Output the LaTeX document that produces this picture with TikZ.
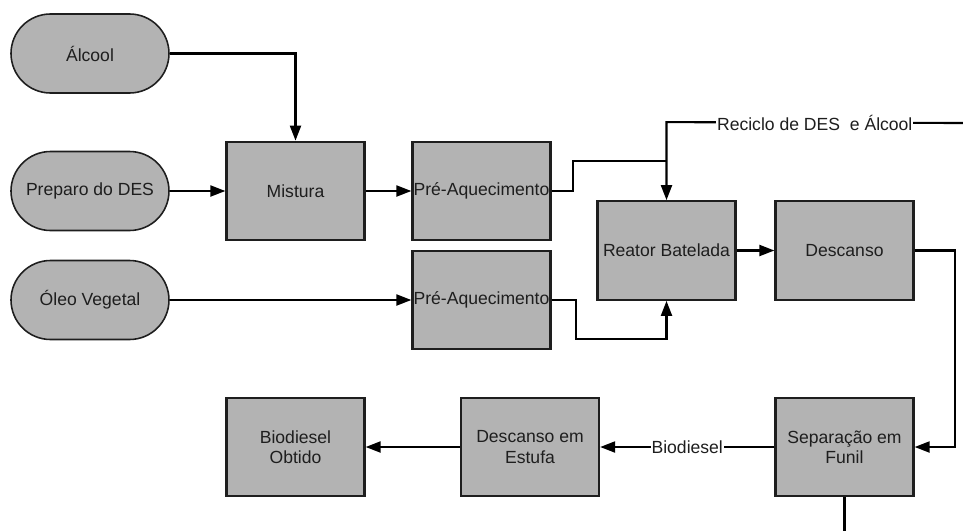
\documentclass[tikz,border=0pt]{standalone}
\usepackage{fontspec}
\setmainfont{Liberation Sans}
\usetikzlibrary{arrows.meta}

\definecolor{boxgray}{HTML}{B3B3B3}
\definecolor{inkdark}{HTML}{1E1E1E}

\tikzset{
    entrada/.style={draw=inkdark, fill=boxgray, line width=0.9pt, rounded corners=0.79cm,
        minimum width=3.16cm, minimum height=1.58cm, text=inkdark, font=\fontsize{10}{11.5}\selectfont},
    etapa/.style={draw=inkdark, fill=boxgray, line width=1.3pt, inner sep=0pt, align=center,
        minimum width=2.76cm, minimum height=1.97cm, text=inkdark, font=\fontsize{10}{11.5}\selectfont},
    fluxo/.style={line width=1.2pt, -{Triangle[length=3mm,width=2.2mm]}},
    linha/.style={line width=1.2pt},
    rotulo/.style={fill=white, inner sep=0.5pt, text=inkdark, font=\fontsize{10}{11.5}\selectfont}
}

\begin{document}
\begin{tikzpicture}
        \useasboundingbox (0,0) rectangle (19.26,-10.62);

        \node[entrada] (alcool) at (1.80,-1.07) {Álcool};
        \node[entrada] (preparo) at (1.80,-3.82) {Preparo do DES};
        \node[entrada] (oleo) at (1.80,-6.00) {Óleo Vegetal};

        \node[etapa] (mistura) at (5.91,-3.82) {Mistura};
        \node[etapa] (preaq1) at (9.63,-3.82) {Pré-Aquecimento};
        \node[etapa] (preaq2) at (9.63,-6.00) {Pré-Aquecimento};
        \node[etapa] (reator) at (13.33,-5.01) {Reator Batelada};
        \node[etapa] (descanso) at (16.89,-5.01) {Descanso};
        \node[etapa] (separacao) at (16.89,-8.94) {Separação em\\Funil};
        \node[etapa] (estufa) at (10.60,-8.94) {Descanso em\\Estufa};
        \node[etapa] (obtido) at (5.91,-8.94) {Biodiesel\\Obtido};

        \coordinate (reciclo) at (19.26,-2.46);
        \coordinate (saida) at (16.89,-10.62);

        \draw[fluxo] (alcool.east) -| (mistura.north);
        \draw[fluxo] (preparo) -- (mistura);
        \draw[fluxo] (mistura) -- (preaq1);
        \draw[fluxo] (oleo) -- (preaq2);

        \draw[linha] (preaq1.east) -- ++(0.42,0) |- ([yshift=0.78cm]reator.north);
        \draw[fluxo] (reciclo) -- node[rotulo] {Reciclo de DES\ \ e Álcool} ([yshift=1.56cm]reator.north) -- (reator.north);
        \draw[fluxo] (preaq2.east) -- ++(0.48,0) |- ([yshift=-0.76cm]reator.south) -- (reator.south);

        \draw[fluxo] (reator) -- (descanso);
        \draw[fluxo] (descanso.east) -- ++(0.8,0) |- (separacao.east);
        \draw[fluxo] (separacao) -- node[rotulo] {Biodiesel} (estufa);
        \draw[fluxo] (estufa) -- (obtido);
        \draw[linha] (separacao) -- (saida);
\end{tikzpicture}
\end{document}
